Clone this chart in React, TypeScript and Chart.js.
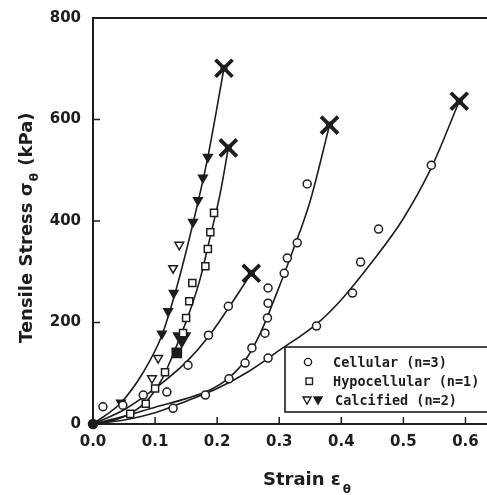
import React, { useEffect, useRef } from "react";
import { Chart, registerables } from "chart.js";

Chart.register(...registerables);

// ---------- axis ticks ----------
const X_TICKS = [0, 0.1, 0.2, 0.3, 0.4, 0.5, 0.6];
const Y_TICKS = [0, 200, 400, 600, 800];

// ---------- fitted curves (strain, stress kPa) ----------
const calcCurveX = [0, 0.045, 0.08, 0.111, 0.135, 0.161, 0.185, 0.211];
const calcCurveY = [0, 42, 100, 175, 270, 395, 526, 701];

const hypoCurveX = [0, 0.04, 0.065, 0.09, 0.111, 0.135, 0.156, 0.173, 0.19, 0.205, 0.218];
const hypoCurveY = [0, 10, 24, 50, 88, 155, 222, 288, 375, 455, 544];

const cellACurveX = [0, 0.05, 0.1, 0.15, 0.186, 0.218, 0.255];
const cellACurveY = [0, 28, 70, 122, 172, 228, 297];

const cellBCurveX = [0, 0.05, 0.1, 0.15, 0.19, 0.22, 0.245, 0.27, 0.295, 0.32, 0.35, 0.381];
const cellBCurveY = [0, 15, 33, 50, 68, 92, 125, 180, 255, 335, 440, 589];

const cellCCurveX = [0, 0.05, 0.1, 0.15, 0.2, 0.25, 0.3, 0.361, 0.4, 0.45, 0.5, 0.545, 0.59];
const cellCCurveY = [0, 8, 22, 45, 70, 103, 145, 198, 245, 320, 405, 505, 636];

// ---------- measured points ----------
const cellularX = [0.016, 0.048, 0.081, 0.119, 0.129, 0.153, 0.181, 0.186, 0.218, 0.219, 0.245, 0.256, 0.277, 0.281, 0.282, 0.282, 0.282, 0.308, 0.313, 0.329, 0.345, 0.36, 0.418, 0.431, 0.46, 0.545];
const cellularY = [34, 37, 57, 63, 31, 116, 57, 175, 232, 89, 120, 150, 179, 209, 238, 268, 130, 297, 327, 357, 473, 193, 258, 319, 384, 510];

const hypoX = [0.06, 0.085, 0.1, 0.116, 0.145, 0.15, 0.155, 0.16, 0.181, 0.185, 0.189, 0.195];
const hypoY = [20, 40, 70, 102, 179, 209, 242, 278, 311, 345, 378, 416];

const calcOpenX = [0.095, 0.105, 0.129, 0.139];
const calcOpenY = [90, 130, 307, 353];

const calcFilledX = [0.045, 0.111, 0.121, 0.13, 0.161, 0.169, 0.177, 0.185];
const calcFilledY = [42, 178, 222, 258, 398, 441, 485, 526];

const bigMarkX = [0.143];
const bigMarkY = [170];
const bigSquareX = [0.135];
const bigSquareY = [140];

const originX = [0];
const originY = [0];

// ---------- failure points ----------
const failX = [0.211, 0.218, 0.255, 0.381, 0.59];
const failY = [701, 544, 297, 589, 636];

// ---------- legend ----------
const legendLabels = ["Cellular (n=3)", "Hypocellular (n=1)", "Calcified (n=2)"];

const INK = "#1d1d1d";
const FONT = '"DejaVu Sans", sans-serif';
const MONO = '"DejaVu Sans Mono", monospace';

const pts = (xs: number[], ys: number[]) => xs.map((x, i) => ({ x, y: ys[i] }));

const curve = (xs: number[], ys: number[]) => ({
  data: pts(xs, ys),
  showLine: true,
  borderColor: INK,
  borderWidth: 1.6,
  pointRadius: 0,
  cubicInterpolationMode: "monotone" as const,
  fill: false,
  order: 10,
});

const markers = (xs: number[], ys: number[], style: string, extra: any = {}) => ({
  data: pts(xs, ys),
  showLine: false,
  pointStyle: style,
  pointRadius: 4,
  pointBorderWidth: 1.5,
  pointBorderColor: INK,
  pointBackgroundColor: "#ffffff",
  clip: false,
  order: 2,
  ...extra,
});

const overlay = {
  id: "overlay",
  afterDraw(chart: any) {
    const { ctx, chartArea } = chart;
    const { left, right, top, bottom } = chartArea;
    const xs = chart.scales.x;
    const ys = chart.scales.y;
    ctx.save();
    ctx.strokeStyle = INK;
    ctx.fillStyle = INK;

    // top frame line
    ctx.lineWidth = 2;
    ctx.beginPath();
    ctx.moveTo(left - 1, top);
    ctx.lineTo(right, top);
    ctx.stroke();

    // inside tick marks
    ctx.lineWidth = 1.5;
    ctx.beginPath();
    X_TICKS.slice(1).forEach((v) => {
      const px = xs.getPixelForValue(v);
      ctx.moveTo(px, bottom);
      ctx.lineTo(px, bottom - 7);
    });
    Y_TICKS.slice(1, -1).forEach((v) => {
      const py = ys.getPixelForValue(v);
      ctx.moveTo(left, py);
      ctx.lineTo(left + 7, py);
    });
    ctx.stroke();

    // x axis title: Strain ε_θ
    ctx.textAlign = "left";
    ctx.textBaseline = "alphabetic";
    ctx.font = `bold 18px ${FONT}`;
    const xMain = "Strain ε";
    ctx.fillText(xMain, 263, 485);
    const wx = ctx.measureText(xMain).width;
    ctx.font = `bold 12px ${FONT}`;
    ctx.fillText("θ", 263 + wx + 2, 493);

    // y axis title: Tensile Stress σ_θ (kPa)
    ctx.save();
    ctx.translate(32, 343);
    ctx.rotate(-Math.PI / 2);
    ctx.font = `bold 18px ${FONT}`;
    const y1 = "Tensile Stress σ";
    ctx.fillText(y1, 0, 0);
    const w1 = ctx.measureText(y1).width;
    ctx.font = `bold 12px ${FONT}`;
    ctx.fillText("θ", w1 + 1, 6);
    const wt = ctx.measureText("θ").width;
    ctx.font = `bold 18px ${FONT}`;
    ctx.fillText(" (kPa)", w1 + wt + 2, 0);
    ctx.restore();

    // legend box
    ctx.lineWidth = 1.6;
    ctx.fillStyle = "#ffffff";
    ctx.fillRect(285, 347, 240, 65);
    ctx.strokeRect(285, 347, 240, 65);
    ctx.fillStyle = INK;
    const rows = [362, 381, 400];
    ctx.lineWidth = 1.4;
    ctx.beginPath();
    ctx.arc(308, rows[0], 3.6, 0, Math.PI * 2);
    ctx.stroke();
    ctx.strokeRect(306, rows[1] - 3, 6.5, 6.5);
    const tri = (cx: number, cy: number, filled: boolean) => {
      ctx.beginPath();
      ctx.moveTo(cx - 4, cy - 3);
      ctx.lineTo(cx + 4, cy - 3);
      ctx.lineTo(cx, cy + 4);
      ctx.closePath();
      if (filled) ctx.fill();
      ctx.stroke();
    };
    tri(307, rows[2], false);
    tri(318, rows[2], true);
    ctx.font = `bold 13.5px ${MONO}`;
    ctx.textBaseline = "middle";
    ctx.fillText(legendLabels[0], 333, rows[0] + 1);
    ctx.fillText(legendLabels[1], 333, rows[1] + 1);
    ctx.fillText(legendLabels[2], 335, rows[2] + 1);

    ctx.restore();
  },
};

export default function App() {
  const ref = useRef<HTMLCanvasElement | null>(null);

  useEffect(() => {
    if (!ref.current) return;
    const chart = new Chart(ref.current, {
      type: "scatter",
      data: {
        datasets: [
          curve(calcCurveX, calcCurveY),
          curve(hypoCurveX, hypoCurveY),
          curve(cellACurveX, cellACurveY),
          curve(cellBCurveX, cellBCurveY),
          curve(cellCCurveX, cellCCurveY),
          markers(cellularX, cellularY, "circle"),
          markers(hypoX, hypoY, "rect", { pointRadius: 5 }),
          markers(calcOpenX, calcOpenY, "triangle", { pointRotation: 180, pointRadius: 5 }),
          markers(calcFilledX, calcFilledY, "triangle", { pointRotation: 180, pointRadius: 5, pointBackgroundColor: INK }),
          markers(bigMarkX, bigMarkY, "triangle", { pointRotation: 180, pointRadius: 9, pointBackgroundColor: INK, pointBorderWidth: 2 }),
          markers(bigSquareX, bigSquareY, "rect", { pointRadius: 6.5, pointBackgroundColor: INK }),
          markers(originX, originY, "circle", { pointRadius: 4.5, pointBackgroundColor: INK, order: 1 }),
          markers(failX, failY, "circle", { pointRadius: 3.5, pointBackgroundColor: INK, pointBorderWidth: 0, order: 1 }),
          markers(failX, failY, "crossRot", { pointRadius: 12, pointBorderWidth: 3.8, order: 0 }),
        ] as any,
      },
      options: {
        animation: false,
        responsive: true,
        maintainAspectRatio: false,
        events: [],
        layout: { padding: { top: 18, right: 0, bottom: 0, left: 0 } },
        plugins: {
          legend: { display: false },
          tooltip: { enabled: false },
          title: { display: false },
        },
        scales: {
          x: {
            type: "linear",
            min: 0,
            max: 0.635,
            afterBuildTicks: (s: any) => {
              s.ticks = X_TICKS.map((v) => ({ value: v }));
            },
            afterFit: (s: any) => {
              s.height = 71;
              s.paddingLeft = 0;
              s.paddingRight = 0;
            },
            ticks: {
              callback: (v: any) => Number(v).toFixed(1),
              font: { family: FONT, size: 15, weight: "bold" },
              color: INK,
              padding: 9,
              maxRotation: 0,
              autoSkip: false,
            },
            grid: { display: false, drawTicks: false },
            border: { display: true, width: 2, color: INK },
          },
          y: {
            type: "linear",
            min: 0,
            max: 800,
            afterBuildTicks: (s: any) => {
              s.ticks = Y_TICKS.map((v) => ({ value: v }));
            },
            afterFit: (s: any) => {
              s.width = 93;
              s.paddingTop = 0;
              s.paddingBottom = 0;
            },
            ticks: {
              font: { family: FONT, size: 15, weight: "bold" },
              color: INK,
              padding: 12,
              autoSkip: false,
            },
            grid: { display: false, drawTicks: false },
            border: { display: true, width: 2, color: INK },
          },
        },
      },
      plugins: [overlay],
    });
    return () => chart.destroy();
  }, []);

  return (
    <div style={{ position: "absolute", left: 0, top: 0, width: 487, height: 495, overflow: "hidden", background: "#fff" }}>
      <div style={{ position: "relative", width: 503, height: 495 }}>
        <canvas ref={ref} />
      </div>
    </div>
  );
}
